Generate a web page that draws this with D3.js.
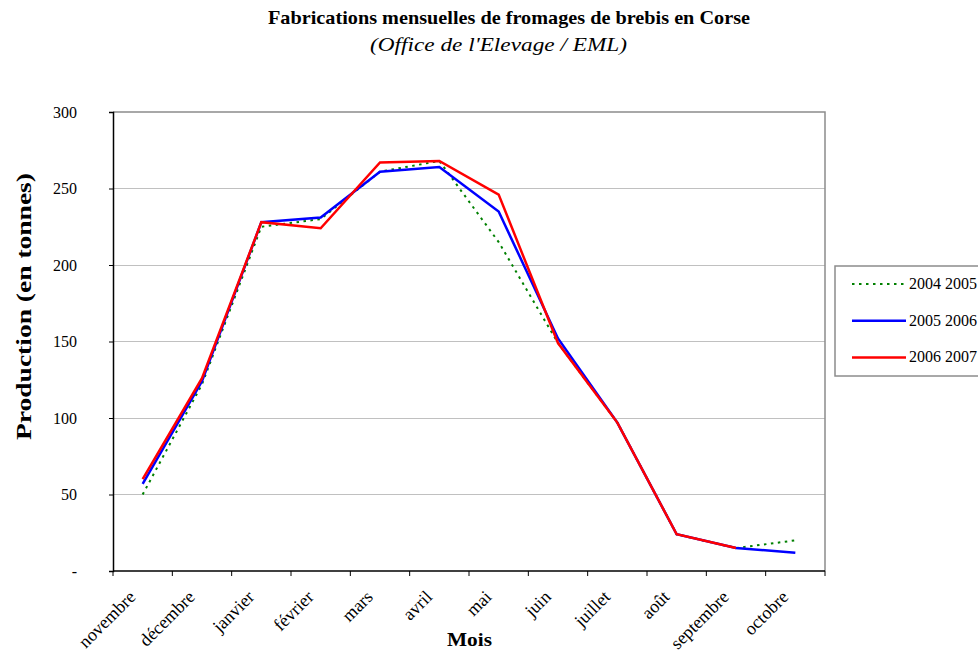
<!DOCTYPE html>
<html>
<head>
<meta charset="utf-8">
<script src="https://cdn.jsdelivr.net/npm/d3@7"></script>
<style>
  html, body { margin: 0; padding: 0; background: #fff; }
  svg { display: block; font-family: "Liberation Serif", "Times New Roman", serif; }
  svg text { font-family: "Liberation Serif", "Times New Roman", serif; }
</style>
</head>
<body>
<svg id="chart" width="978" height="651"></svg>
<script>
// ---- data ----
const months = ["novembre","décembre","janvier","février","mars","avril","mai","juin","juillet","août","septembre","octobre"];
const s2004 = [50, 122, 225, 230, 261, 268, 215, 149, 97, 24, 15, 20];
const s2005 = [57, 124, 228, 231, 261, 264, 235, 152, 97, 24, 15, 12];
const s2006 = [60, 126, 228, 224, 267, 268, 246, 149, 97, 24, 15];
const seriesNames = ["2004 2005", "2005 2006", "2006 2007"];
const yTicks = [0, 50, 100, 150, 200, 250, 300];
const titleText = "Fabrications mensuelles de fromages de brebis en Corse";
const subtitleText = "(Office de l'Elevage / EML)";
const xTitle = "Mois";
const yTitle = "Production (en tonnes)";

const series = [
  { name: seriesNames[0], values: s2004, color: "#008000", width: 2, dash: "2.5,4.5" },
  { name: seriesNames[1], values: s2005, color: "#0000ff", width: 2.5, dash: null },
  { name: seriesNames[2], values: s2006, color: "#ff0000", width: 2.5, dash: null }
];

const FONT = "Liberation Serif";
const svg = d3.select("#chart");
const plot = { left: 113, right: 825, top: 112, bottom: 571 };

const x = d3.scaleBand().domain(months).range([plot.left, plot.right]).padding(0);
const xEdge = d3.scaleLinear().domain([0, months.length]).range([plot.left, plot.right]);
const y = d3.scaleLinear().domain([0, 300]).range([plot.bottom, plot.top]);

// gridlines
svg.append("g").selectAll("line").data(yTicks.filter(d => d > 0 && d < 300)).join("line")
  .attr("x1", plot.left).attr("x2", plot.right)
  .attr("y1", d => y(d)).attr("y2", d => y(d))
  .attr("stroke", "#c0c0c0").attr("stroke-width", 1).attr("shape-rendering", "crispEdges");

// plot border top/right
svg.append("path")
  .attr("d", `M${plot.left},${y(300)}H${plot.right}V${plot.bottom}`)
  .attr("fill", "none").attr("stroke", "#8c8c8c").attr("stroke-width", 1.5);

// y axis
const yAxis = d3.axisLeft(y).tickValues(yTicks).tickSize(4).tickPadding(32)
  .tickFormat(d => d === 0 ? "-" : d);
const gy = svg.append("g").attr("transform", `translate(${plot.left},0)`).call(yAxis)
  .attr("font-family", FONT);
gy.select(".domain").attr("stroke", "#000").attr("stroke-width", 1.5);
gy.selectAll(".tick line").attr("stroke", "#000");
gy.selectAll(".tick text").attr("font-family", FONT).attr("font-size", 16).attr("fill", "#000");

// x axis: domain + edge ticks
const gx = svg.append("g").attr("font-family", FONT);
gx.append("line").attr("x1", plot.left).attr("x2", plot.right)
  .attr("y1", plot.bottom).attr("y2", plot.bottom).attr("stroke", "#000").attr("stroke-width", 1.5);
gx.selectAll("line.t").data(d3.range(months.length + 1)).join("line").attr("class", "t")
  .attr("x1", d => xEdge(d)).attr("x2", d => xEdge(d))
  .attr("y1", plot.bottom).attr("y2", plot.bottom + 5).attr("stroke", "#000");
gx.selectAll("text").data(months).join("text")
  .attr("transform", d => `translate(${x(d) + x.bandwidth() / 2 - 6},${plot.bottom + 27}) rotate(-45)`)
  .attr("text-anchor", "end").attr("font-family", FONT).attr("font-size", 18).attr("fill", "#000").text(d => d);

// lines
const line = d3.line().x((d, i) => x(months[i]) + x.bandwidth() / 2).y(d => y(d));
svg.append("g").selectAll("path").data(series).join("path")
  .attr("d", d => line(d.values))
  .attr("fill", "none").attr("stroke", d => d.color).attr("stroke-width", d => d.width)
  .attr("stroke-dasharray", d => d.dash).attr("stroke-linejoin", "miter");

// titles
svg.append("text").attr("x", 268).attr("y", 24)
  .attr("font-family", FONT).attr("font-weight", "bold").attr("font-size", 19)
  .attr("textLength", 482).attr("lengthAdjust", "spacingAndGlyphs").text(titleText);
svg.append("text").attr("x", 370).attr("y", 51)
  .attr("font-family", FONT).attr("font-style", "italic").attr("font-size", 19)
  .attr("textLength", 257).attr("lengthAdjust", "spacingAndGlyphs").text(subtitleText);
svg.append("text").attr("x", 447).attr("y", 646)
  .attr("font-family", FONT).attr("font-weight", "bold").attr("font-size", 19)
  .attr("textLength", 45).attr("lengthAdjust", "spacingAndGlyphs").text(xTitle);
svg.append("text").attr("transform", `translate(31,440) rotate(-90)`)
  .attr("font-family", FONT).attr("font-weight", "bold").attr("font-size", 20)
  .attr("textLength", 267).attr("lengthAdjust", "spacingAndGlyphs").text(yTitle);

// legend
const lg = svg.append("g").attr("font-family", FONT);
lg.append("rect").attr("x", 835).attr("y", 266).attr("width", 160).attr("height", 110)
  .attr("fill", "#fff").attr("stroke", "#8c8c8c").attr("stroke-width", 1.5);
const items = lg.selectAll("g.item").data(series).join("g").attr("class", "item")
  .attr("transform", (d, i) => `translate(852,${284 + i * 36.7})`);
items.append("line").attr("x1", 0).attr("x2", 54).attr("y1", 0).attr("y2", 0)
  .attr("stroke", d => d.color).attr("stroke-width", d => d.width).attr("stroke-dasharray", d => d.dash);
items.append("text").attr("x", 57).attr("y", 5).attr("font-family", FONT).attr("font-size", 16).text(d => d.name);
</script>
</body>
</html>
